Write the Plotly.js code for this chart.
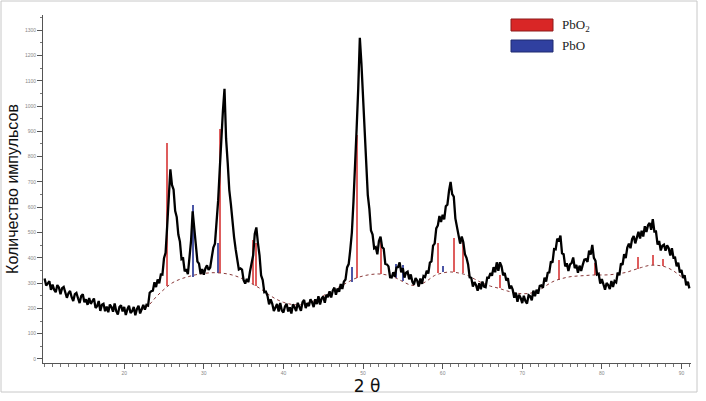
<!DOCTYPE html>
<html>
<head>
<meta charset="utf-8">
<script src="https://cdn.plot.ly/plotly-3.0.1.min.js"></script>
<style>html,body{margin:0;padding:0;background:#fff;}#chart{width:706px;height:401px;}</style>
</head>
<body>
<div id="chart"></div>
<script>
// Diffractogram: intensity sampled from 2θ = 10.0 in steps of 0.2
const START_2THETA = 10;
const STEP_2THETA = 0.2;
const counts = [
  318, 290, 299, 307, 273, 294, 274, 264, 292, 283,
  256, 280, 285, 257, 242, 260, 269, 244, 229, 256,
  261, 240, 221, 249, 256, 224, 236, 214, 241, 218,
  231, 239, 202, 209, 229, 190, 214, 218, 189, 207,
  185, 215, 205, 187, 219, 189, 176, 205, 212, 188,
  206, 174, 196, 210, 182, 189, 206, 173, 198, 210,
  180, 201, 214, 195, 214, 211, 262, 268, 270, 303,
  284, 314, 299, 334, 333, 398, 420, 526, 632, 750,
  688, 670, 586, 561, 492, 464, 394, 397, 346, 355,
  335, 404, 468, 584, 508, 464, 385, 377, 336, 355,
  333, 358, 370, 352, 361, 402, 440, 456, 530, 626,
  748, 898, 980, 1068, 870, 776, 668, 612, 532, 482,
  434, 394, 354, 358, 353, 312, 298, 317, 304, 346,
  372, 410, 494, 520, 458, 410, 330, 312, 264, 266,
  250, 216, 236, 218, 190, 201, 217, 188, 221, 192,
  184, 208, 218, 188, 204, 180, 216, 204, 189, 222,
  202, 190, 224, 233, 201, 221, 209, 236, 224, 205,
  236, 217, 248, 215, 239, 247, 222, 254, 244, 268,
  243, 270, 282, 254, 278, 266, 296, 277, 306, 314,
  362, 375, 432, 500, 622, 750, 912, 1070, 1270, 1168,
  1030, 886, 792, 648, 592, 508, 492, 438, 442, 414,
  466, 484, 442, 436, 376, 374, 366, 323, 322, 343,
  325, 361, 363, 382, 343, 359, 322, 341, 345, 315,
  334, 305, 294, 320, 310, 286, 318, 297, 328, 324,
  349, 338, 381, 386, 448, 456, 516, 528, 565, 542,
  570, 552, 604, 610, 664, 700, 652, 642, 556, 522,
  492, 456, 484, 462, 414, 400, 374, 323, 321, 286,
  304, 292, 270, 299, 276, 306, 286, 284, 321, 321,
  339, 329, 363, 343, 382, 349, 382, 366, 331, 340,
  310, 319, 278, 290, 274, 242, 262, 226, 254, 241,
  221, 250, 229, 219, 252, 248, 232, 270, 248, 274,
  258, 289, 291, 281, 321, 306, 340, 342, 386, 381,
  434, 433, 476, 465, 488, 418, 414, 366, 378, 348,
  374, 379, 401, 359, 372, 341, 369, 348, 372, 393,
  395, 384, 428, 413, 451, 400, 388, 334, 337, 298,
  316, 289, 274, 300, 292, 276, 308, 285, 308, 303,
  342, 331, 378, 372, 414, 399, 440, 456, 438, 474,
  486, 457, 486, 503, 476, 507, 484, 525, 502, 529,
  538, 511, 553, 504, 504, 452, 467, 429, 448, 452,
  428, 449, 438, 409, 438, 400, 401, 366, 381, 342,
  352, 320, 331, 291, 305, 279
];

// Fitted background (dotted curve)
const bgTheta = [22, 23, 24, 25, 26, 27, 28, 29, 30, 31, 32, 33, 34, 35, 36, 37, 38, 39, 40, 41, 42, 43, 44, 45, 46, 47, 48, 49, 50, 51, 52, 53, 54, 55, 56, 57, 58, 59, 60, 61, 62, 63, 64, 65, 66, 67, 68, 69, 70, 71, 72, 73, 74, 75, 76, 77, 78, 79, 80, 81, 82, 83, 84, 85, 86, 87, 88, 89, 90, 91];
const bgCounts = [190, 210, 245, 275, 300, 315, 325, 333, 338, 341, 340, 336, 328, 315, 298, 280, 258, 238, 224, 216, 214, 220, 232, 250, 268, 285, 302, 318, 328, 334, 336, 332, 322, 306, 292, 292, 308, 330, 340, 344, 340, 332, 316, 300, 288, 280, 270, 262, 258, 260, 270, 290, 308, 318, 325, 328, 330, 332, 332, 333, 337, 342, 352, 362, 370, 370, 364, 348, 325, 300];

// Reference lines: PbO2
const pbo2Theta = [25.4, 32.0, 36.2, 36.6, 49.3, 52.2, 59.4, 61.4, 62.6, 67.2, 74.6, 79.1, 84.5, 86.4, 87.7];
const pbo2Top   = [854, 910, 470, 460, 885, 470, 458, 478, 462, 332, 391, 379, 403, 411, 395];
const pbo2Base  = [289, 340, 298, 290, 320, 336, 338, 344, 338, 280, 312, 332, 355, 370, 366];
// Reference lines: PbO
const pboTheta = [28.6, 31.8, 48.6, 54.2, 55.0, 60.0];
const pboTop   = [609, 458, 364, 375, 370, 368];
const pboBase  = [325, 341, 305, 322, 308, 342];

const xTickVals = [20, 30, 40, 50, 60, 70, 80, 90];
const xTitle = '2 θ';
const yTitle = 'Количество импульсов';
const legendNames = ['PbO<sub>2</sub>', 'PbO'];

function heights(top, base) { return top.map((t, i) => t - base[i]); }

const traces = [
  {type: 'bar', x: pbo2Theta, y: heights(pbo2Top, pbo2Base), base: pbo2Base, width: 0.25,
   marker: {color: 'rgba(214,52,52,0.8)', line: {width: 0}}, hoverinfo: 'skip', showlegend: false},
  {type: 'bar', x: pboTheta, y: heights(pboTop, pboBase), base: pboBase, width: 0.25,
   marker: {color: 'rgba(44,56,150,0.85)', line: {width: 0}}, hoverinfo: 'skip', showlegend: false},
  {type: 'scatter', mode: 'lines', x: bgTheta, y: bgCounts, line: {color: '#8a3a3a', width: 1, dash: 'dot', shape: 'spline'}, hoverinfo: 'skip', showlegend: false},
  {type: 'scatter', mode: 'lines', x0: START_2THETA, dx: STEP_2THETA, y: counts, line: {color: '#000', width: 2.3}, showlegend: false}
];

// pixel -> paper helpers for decorative frame/legend placement
const L = 43, R = 691, T = 15, B = 363;
const px = v => (v - L) / (R - L);
const py = v => (B - v) / (B - T);

const layout = {
  width: 706, height: 401,
  margin: {l: L, r: 706 - R, t: T, b: 401 - B, pad: 0},
  paper_bgcolor: '#fff', plot_bgcolor: '#fff',
  barmode: 'overlay', bargap: 0,
  font: {family: 'Liberation Sans, Arial, sans-serif', color: '#222'},
  xaxis: {
    range: [9.8, 91.2], tickmode: 'array', tickvals: xTickVals, showgrid: false, zeroline: false,
    showline: true, linecolor: '#555', linewidth: 1, ticks: 'outside', ticklen: 5, tickcolor: '#555',
    tickfont: {size: 5, color: '#888'},
    minor: {tickmode: 'linear', tick0: 0, dtick: 1, ticks: 'outside', ticklen: 2.5, tickcolor: '#777'},
    title: {text: xTitle, font: {size: 17, color: '#111', family: 'DejaVu Sans, sans-serif'}, standoff: 4}
  },
  yaxis: {
    range: [-16, 1360], dtick: 100, tick0: 0, showgrid: false, zeroline: false,
    showline: true, linecolor: '#555', linewidth: 1, ticks: 'outside', ticklen: 5, tickcolor: '#555',
    tickfont: {size: 5, color: '#888'},
    minor: {dtick: 50, ticks: 'outside', ticklen: 2.5, tickcolor: '#777'},
    title: {text: yTitle, font: {size: 16, color: '#111'}, standoff: 2}
  },
  shapes: [
    {type: 'rect', xref: 'paper', yref: 'paper', x0: px(1), x1: px(697), y0: py(392), y1: py(1),
     line: {color: '#c8c8c8', width: 1}, fillcolor: 'rgba(0,0,0,0)', layer: 'below'},
    {type: 'rect', xref: 'paper', yref: 'paper', x0: px(511), x1: px(553), y0: py(31), y1: py(19),
     line: {color: '#8c1a1a', width: 1}, fillcolor: '#d92626'},
    {type: 'rect', xref: 'paper', yref: 'paper', x0: px(511), x1: px(553), y0: py(52), y1: py(40),
     line: {color: '#1e2a70', width: 1}, fillcolor: '#3040a0'}
  ],
  annotations: [
    {xref: 'paper', yref: 'paper', x: px(560), y: py(25), xanchor: 'left', yanchor: 'middle', showarrow: false,
     text: legendNames[0], font: {family: 'Liberation Serif, Times New Roman, serif', size: 13, color: '#222'}},
    {xref: 'paper', yref: 'paper', x: px(560), y: py(46), xanchor: 'left', yanchor: 'middle', showarrow: false,
     text: legendNames[1], font: {family: 'Liberation Serif, Times New Roman, serif', size: 13, color: '#222'}}
  ]
};

Plotly.newPlot('chart', traces, layout, {displayModeBar: false, staticPlot: true});
</script>
</body>
</html>
